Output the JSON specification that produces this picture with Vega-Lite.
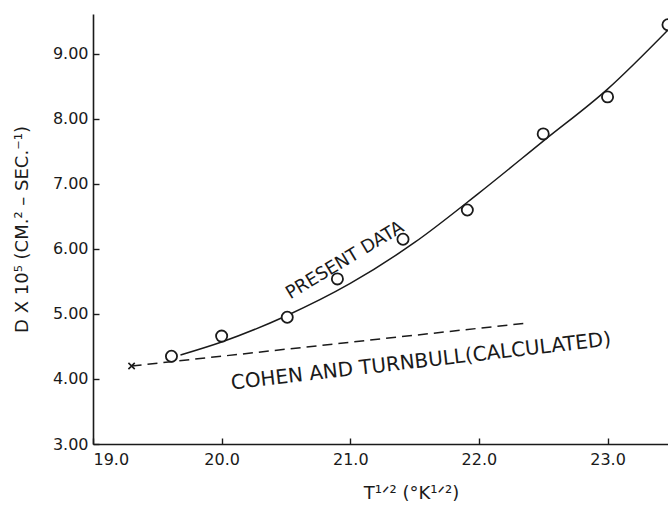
{
  "$schema": "https://vega.github.io/schema/vega-lite/v6.json",
  "width": 575,
  "height": 430,
  "autosize": {"type": "none"},
  "padding": {"left": 93, "top": 14, "right": 0, "bottom": 62},
  "background": "white",
  "config": {
    "view": {"stroke": null},
    "font": "DejaVu Sans",
    "axis": {
      "domainColor": "#1a1a1a",
      "domainWidth": 1.6,
      "tickColor": "#1a1a1a",
      "tickWidth": 1.4,
      "labelColor": "#1a1a1a",
      "titleColor": "#1a1a1a",
      "labelFont": "DejaVu Sans",
      "titleFont": "DejaVu Sans",
      "labelFontSize": 16,
      "titleFontSize": 18,
      "titleFontWeight": "normal",
      "grid": false
    }
  },
  "datasets": {
    "present": [
      {"t": 19.61, "d": 4.35},
      {"t": 20.0, "d": 4.66},
      {"t": 20.51, "d": 4.95},
      {"t": 20.9, "d": 5.54},
      {"t": 21.41, "d": 6.15},
      {"t": 21.91, "d": 6.6},
      {"t": 22.5, "d": 7.77},
      {"t": 23.0, "d": 8.34},
      {"t": 23.47, "d": 9.45}
    ],
    "fit": [
      {"t": 19.68, "d": 4.37},
      {"t": 20.0, "d": 4.57},
      {"t": 20.5, "d": 4.97},
      {"t": 21.0, "d": 5.47},
      {"t": 21.5, "d": 6.1},
      {"t": 22.0, "d": 6.86},
      {"t": 22.5, "d": 7.66},
      {"t": 23.0, "d": 8.46},
      {"t": 23.47, "d": 9.37}
    ],
    "calc": [
      {"t": 19.3, "d": 4.2},
      {"t": 22.37, "d": 4.86}
    ],
    "calcmark": [
      {"t": 19.3, "d": 4.2}
    ],
    "labels": [
      {"t": 20.96, "d": 5.82, "text": "PRESENT DATA", "angle": 329, "size": 18},
      {"t": 21.55, "d": 4.27, "text": "COHEN AND TURNBULL(CALCULATED)", "angle": 353.4, "size": 20}
    ]
  },
  "layer": [
    {
      "data": {"name": "fit"},
      "mark": {"type": "line", "interpolate": "monotone", "color": "#1a1a1a", "strokeWidth": 1.5, "clip": true},
      "encoding": {
        "x": {"field": "t", "type": "quantitative",
              "scale": {"domain": [19, 23.47], "nice": false, "zero": false},
              "axis": {"values": [19, 20, 21, 22, 23], "format": ".1f", "tickSize": -6, "labelPadding": 13,
                       "title": "T¹ᐟ² (°K¹ᐟ²)", "titlePadding": 17, "titleX": 318}},
        "y": {"field": "d", "type": "quantitative",
              "scale": {"domain": [3, 9.615], "nice": false, "zero": false},
              "axis": {"values": [3, 4, 5, 6, 7, 8, 9], "format": ".2f", "tickSize": -6, "labelPadding": 11,
                       "title": "D X 10⁵  (CM.² – SEC.⁻¹)", "titlePadding": 21}}
      }
    },
    {
      "data": {"name": "calc"},
      "mark": {"type": "line", "color": "#1a1a1a", "strokeWidth": 1.5, "strokeDash": [10, 6]},
      "encoding": {
        "x": {"field": "t", "type": "quantitative"},
        "y": {"field": "d", "type": "quantitative"}
      }
    },
    {
      "data": {"name": "calcmark"},
      "mark": {"type": "point", "shape": "M-1,-1L1,1M-1,1L1,-1", "size": 40, "filled": false, "stroke": "#1a1a1a", "strokeWidth": 1.6, "opacity": 1},
      "encoding": {
        "x": {"field": "t", "type": "quantitative"},
        "y": {"field": "d", "type": "quantitative"}
      }
    },
    {
      "data": {"name": "present"},
      "mark": {"type": "point", "shape": "circle", "filled": false, "size": 125, "stroke": "#1a1a1a", "strokeWidth": 1.8, "fill": "white", "opacity": 1, "clip": true},
      "encoding": {
        "x": {"field": "t", "type": "quantitative"},
        "y": {"field": "d", "type": "quantitative"}
      }
    },
    {
      "data": {"name": "labels"},
      "mark": {"type": "text", "color": "#1a1a1a", "font": "DejaVu Sans", "baseline": "middle"},
      "encoding": {
        "x": {"field": "t", "type": "quantitative"},
        "y": {"field": "d", "type": "quantitative"},
        "text": {"field": "text"},
        "size": {"field": "size", "type": "quantitative", "scale": null},
        "angle": {"field": "angle", "type": "quantitative", "scale": null}
      }
    },
    {
      "mark": {"type": "rule", "color": "#1a1a1a", "strokeWidth": 1.6},
      "encoding": {"y": {"datum": 9.615}}
    }
  ]
}
